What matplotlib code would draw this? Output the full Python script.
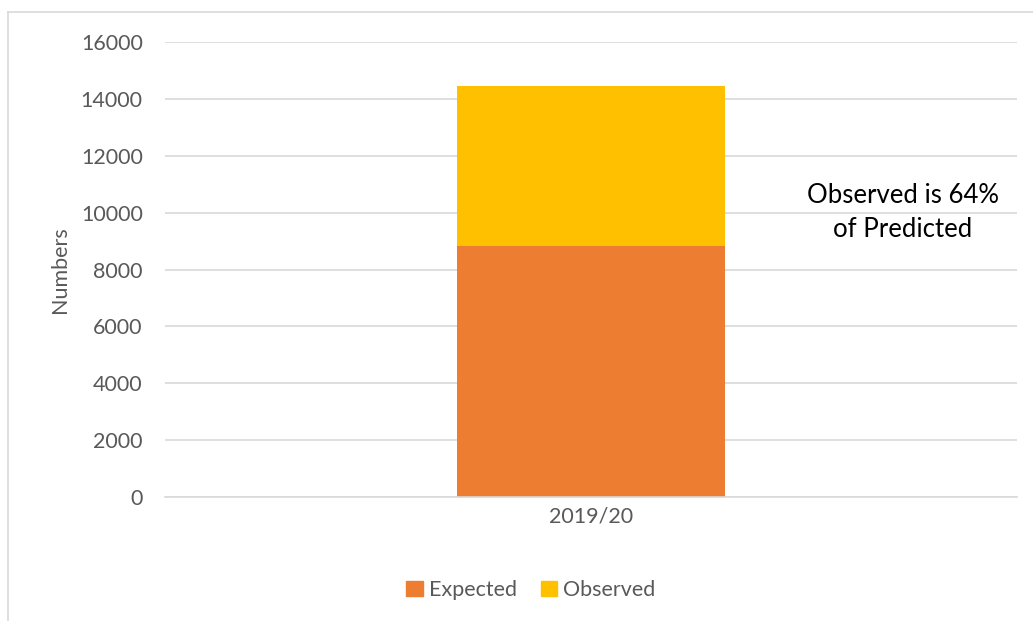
import matplotlib

matplotlib.use("Agg")
import matplotlib.pyplot as plt
from matplotlib.lines import Line2D
from matplotlib.patches import Patch

# Stacked totals for the single season.
seasons = ["2019/20"]
expected = [8840]
observed = [5610]
series_names = ["Expected", "Observed"]
series_colors = ["#ED7D31", "#FFC000"]
y_ticks = [0, 2000, 4000, 6000, 8000, 10000, 12000, 14000, 16000]
note = "Observed is 64%\nof Predicted"

GRID = "#d9d9d9"
TEXT = "#595959"
FONT = ["Lato", "DejaVu Sans"]

plt.rcParams["font.family"] = FONT

fig = plt.figure(figsize=(10.33, 6.21), dpi=100)
ax = fig.add_axes([165 / 1033, 124 / 621, 852 / 1033, 455 / 621])

x = list(range(len(seasons)))
ax.bar(x, expected, width=0.315, color=series_colors[0], label=series_names[0], zorder=2)
ax.bar(x, observed, width=0.315, bottom=expected, color=series_colors[1],
       label=series_names[1], zorder=2)

ax.set_xlim(-0.5, 0.5)
ax.set_ylim(0, 16000)
ax.set_yticks(y_ticks)
ax.set_xticks(x, seasons)
ax.tick_params(axis="both", length=0, labelsize=15.5, colors=TEXT)
ax.tick_params(axis="y", pad=16)
ax.tick_params(axis="x", pad=7)
ax.yaxis.grid(True, color=GRID, lw=1.2, zorder=0)
for side in ("left", "right", "top"):
    ax.spines[side].set_visible(False)
ax.spines["bottom"].set_color(GRID)
ax.spines["bottom"].set_linewidth(1.2)

ax.set_ylabel("Numbers", fontsize=15.5, color=TEXT, labelpad=8)

ax.text(0.866, 0.626, note, transform=ax.transAxes, ha="center", va="center",
        fontsize=18.5, color="black", linespacing=1.45)

handles = [Patch(color=c, label=n) for n, c in zip(series_names, series_colors)]
fig.legend(handles=handles, loc="center", bbox_to_anchor=(531 / 1033, 1 - 590 / 621),
           ncol=2, frameon=False, fontsize=15.5, labelcolor=TEXT, handlelength=0.75,
           handleheight=0.75, handletextpad=0.3, columnspacing=1.1)

# chart-area border, clipped by the image on the right and bottom
fig.add_artist(Line2D([8 / 1033, 1.0], [1 - 12 / 621, 1 - 12 / 621],
                      transform=fig.transFigure, color=GRID, lw=1.2))
fig.add_artist(Line2D([8 / 1033, 8 / 1033], [0.0, 1 - 12 / 621],
                      transform=fig.transFigure, color=GRID, lw=1.2))

fig.savefig("out.png", dpi=100)
